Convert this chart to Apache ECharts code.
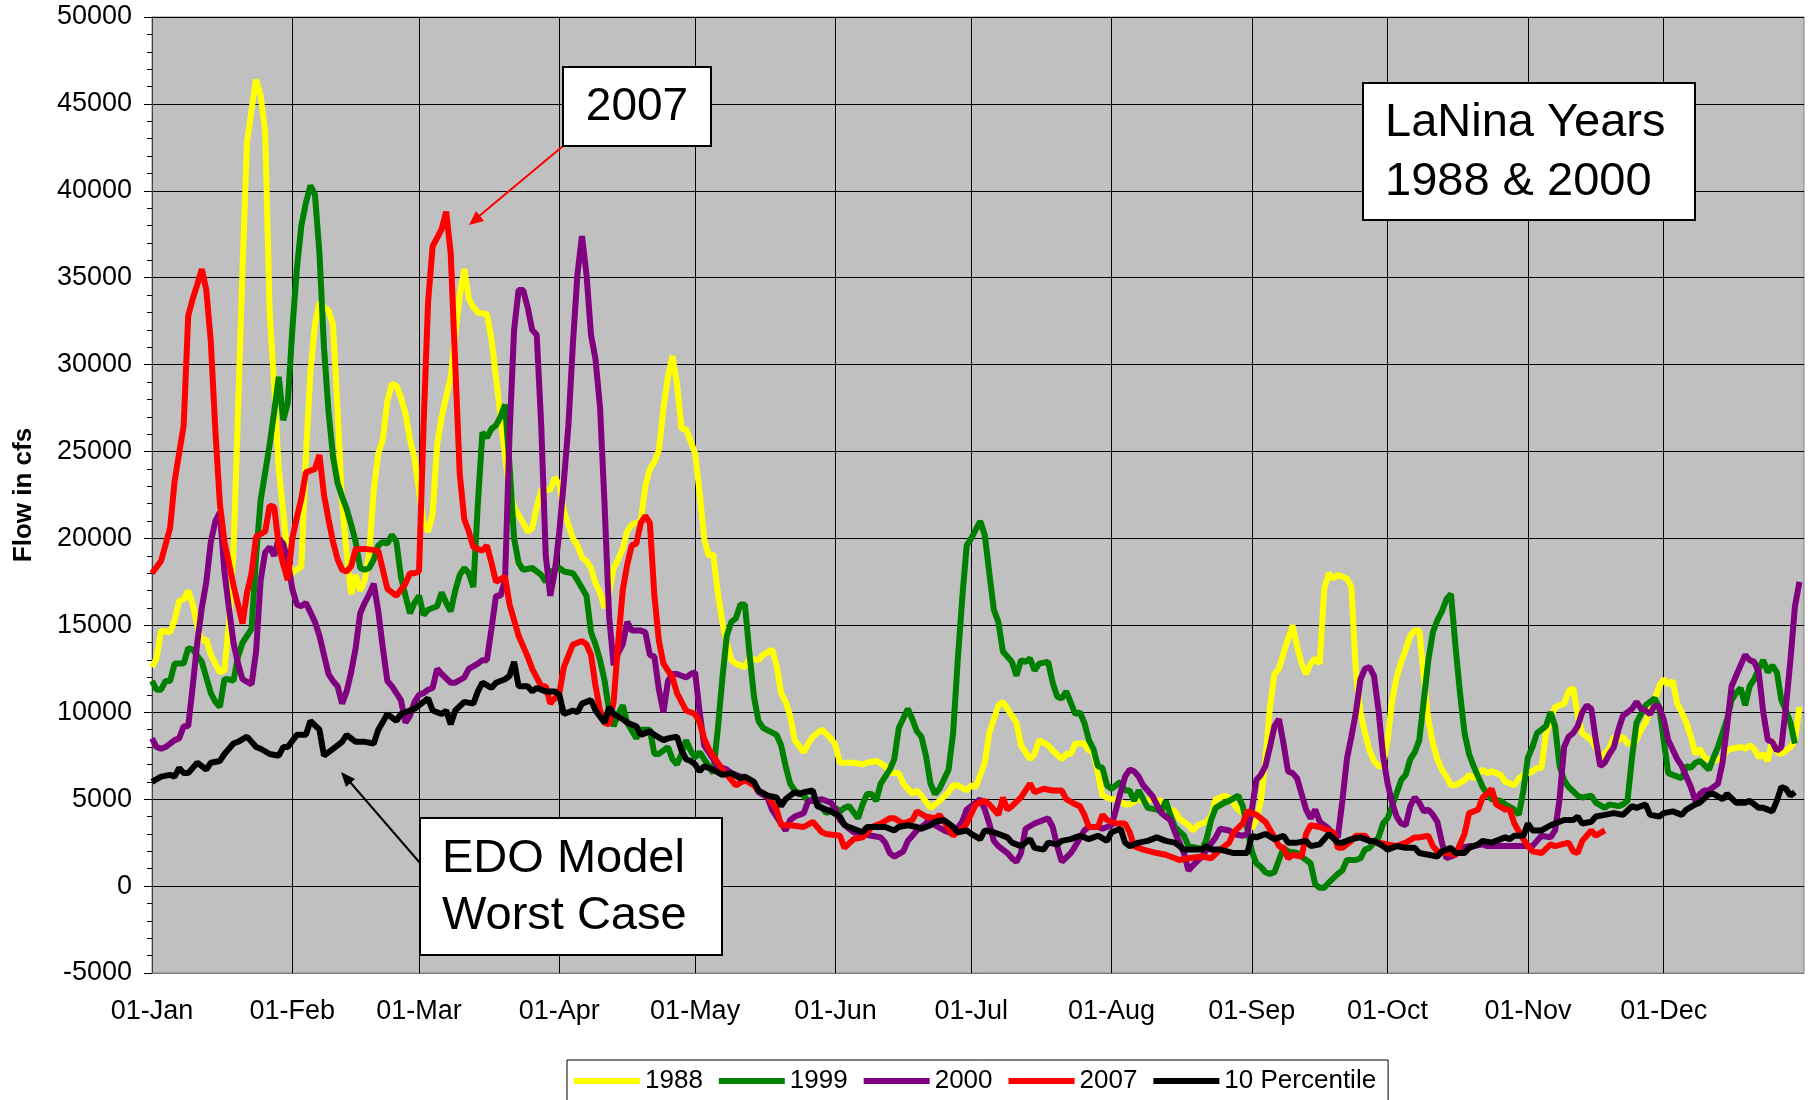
<!DOCTYPE html>
<html>
<head>
<meta charset="utf-8">
<title>Flow in cfs - LaNina Years</title>
<script src="https://cdn.jsdelivr.net/npm/echarts@6/dist/echarts.min.js"></script>
<style>
  html, body { margin: 0; padding: 0; background: #ffffff; }
  #chart { width: 1810px; height: 1100px; }
</style>
</head>
<body>
<div id="chart"></div>
<script>
var FONT = '"Liberation Sans", Arial, sans-serif';

// day-of-year categories, 01-Jan .. 31-Dec plus the closing 01-Jan
var monthNames = ['Jan', 'Feb', 'Mar', 'Apr', 'May', 'Jun', 'Jul', 'Aug', 'Sep', 'Oct', 'Nov', 'Dec'];
var monthLengths = [31, 28, 31, 30, 31, 30, 31, 31, 30, 31, 30, 31];
var days = [];
monthNames.forEach(function (m, i) {
  for (var d = 1; d <= monthLengths[i]; d++) days.push((d < 10 ? '0' : '') + d + '-' + m);
});
days.push('01-Jan');

var legendNames = ['1988', '1999', '2000', '2007', '10 Percentile'];
var seriesColors = ['#FFFF00', '#008000', '#800080', '#FF0000', '#000000'];

// [day index, flow in cfs]
var y1988 = [[0,12600],[1,13100],[2,14700],[4,14600],[5,15300],[6,16400],[7,16500],[8,17000],[9,16200],[10,15000],[11,14100],[12,14200],[13,13300],[15,12300],[16,12400],[17,15100],[18,19200],[19,27300],[20,35500],[21,42800],[22,44700],[23,46400],[24,45500],[25,43400],[26,33000],[27,28800],[28,24000],[29,21500],[30,18800],[31,18000],[33,18400],[34,24700],[35,29600],[36,32300],[37,33600],[38,33300],[39,33100],[40,32300],[41,27400],[42,22000],[43,19200],[44,16800],[45,17900],[46,17000],[47,17600],[48,19200],[49,22800],[50,24900],[51,25700],[52,27900],[53,28900],[54,28800],[55,28100],[56,27200],[57,25700],[58,24600],[59,22700],[60,20900],[61,20400],[62,21400],[63,25400],[64,27000],[66,29300],[67,31700],[68,34000],[69,35500],[70,33800],[71,33300],[72,33000],[74,32900],[75,31500],[76,29300],[77,27000],[78,24700],[79,22800],[80,21800],[82,20900],[83,20400],[84,20600],[85,21800],[86,22800],[88,22800],[89,23500],[90,23100],[91,21600],[93,20000],[94,19600],[95,18900],[96,18700],[97,18300],[98,17400],[99,16900],[100,16000],[101,16900],[102,18300],[103,18800],[104,19400],[105,20400],[106,20800],[108,21000],[109,23000],[110,24000],[111,24400],[112,25100],[113,27500],[114,29300],[115,30500],[116,28900],[117,26300],[118,26300],[119,25600],[120,24900],[121,22600],[122,20000],[123,19000],[124,19100],[125,16900],[126,15200],[127,14000],[128,13000],[129,12800],[131,12600],[132,13100],[134,13000],[135,13300],[137,13600],[138,12700],[139,11100],[140,10600],[141,9800],[142,8400],[144,7700],[145,8200],[146,8600],[148,9000],[150,8500],[151,8100],[152,7100],[154,7100],[155,7100],[157,7000],[158,7100],[160,7200],[162,6900],[163,6500],[165,6500],[166,5900],[168,5300],[169,5500],[170,5200],[172,4500],[173,4700],[174,4900],[176,5400],[177,5800],[178,5800],[180,5500],[181,5800],[182,5700],[184,7100],[185,8800],[187,10400],[188,10600],[190,9800],[191,9400],[192,8100],[194,7300],[195,7600],[196,8400],[198,8100],[199,7800],[201,7300],[202,7600],[203,7600],[204,8200],[206,8200],[207,7800],[208,7700],[209,6500],[210,5200],[212,5000],[213,5000],[215,4700],[216,4700],[218,5000],[219,4900],[221,5000],[223,4900],[224,4500],[226,4300],[227,3900],[229,3500],[230,3200],[231,3500],[233,3700],[234,4000],[235,5000],[237,5200],[238,5100],[240,4400],[241,4200],[242,4100],[243,3300],[244,3800],[245,4900],[246,7300],[247,10300],[248,12200],[249,12500],[250,13400],[251,14200],[252,15000],[253,13800],[254,12800],[255,12200],[256,12800],[257,13100],[258,12800],[259,17100],[260,18000],[261,17700],[262,17900],[264,17700],[265,17200],[266,12300],[267,10000],[268,8800],[269,7800],[270,7200],[271,6900],[272,6900],[273,8400],[274,10700],[275,12000],[276,12900],[277,13600],[278,14400],[279,14700],[280,14700],[281,12000],[282,9600],[283,8200],[284,7300],[285,6700],[286,6300],[287,5800],[288,5800],[290,6100],[291,6400],[292,6200],[294,6700],[295,6500],[296,6600],[298,6400],[299,6000],[301,5800],[302,6200],[303,6400],[305,6600],[306,6800],[307,6800],[308,8800],[309,9600],[310,10300],[312,10500],[313,11200],[314,11400],[315,9800],[316,8800],[318,8400],[319,8000],[320,7400],[322,7900],[323,8600],[324,8400],[325,8600],[326,8200],[327,8200],[328,8400],[329,9000],[330,9400],[331,10200],[332,10700],[333,11500],[334,11900],[335,11600],[336,11800],[337,10500],[338,10000],[339,9400],[340,8600],[341,7600],[342,7900],[343,7400],[344,7300],[345,7200],[347,7400],[348,7800],[349,7900],[351,8000],[352,7900],[353,8100],[354,7900],[355,7400],[356,7600],[357,7200],[358,8400],[359,7700],[360,7600],[362,8000],[363,8400],[364,10300]];

var y1999 = [[0,11800],[1,11300],[2,11300],[3,11800],[4,11800],[5,12800],[7,12800],[8,13700],[9,13600],[11,12900],[12,12000],[13,11100],[14,10600],[15,10300],[16,11900],[17,11900],[18,11800],[19,13200],[20,14000],[22,14800],[23,19000],[24,22200],[25,23800],[26,25400],[27,27300],[28,29300],[29,26800],[30,27800],[31,32000],[32,35500],[33,38000],[34,39300],[35,40300],[36,39800],[37,36400],[38,31000],[39,27300],[40,24700],[41,23200],[42,22400],[43,21700],[44,20800],[45,19800],[46,18300],[47,18200],[48,18300],[49,18800],[50,19600],[51,19800],[52,19700],[53,20200],[54,19800],[55,17800],[56,16700],[57,15700],[58,16300],[59,16700],[60,15600],[61,15900],[62,16000],[63,16100],[64,16900],[65,16300],[66,15800],[67,17000],[68,17900],[69,18300],[70,18000],[71,17200],[72,22000],[73,26100],[74,25800],[75,26300],[76,26500],[77,27000],[78,27700],[79,24200],[80,20000],[81,18600],[82,18200],[84,18300],[86,17900],[87,17500],[88,18100],[90,18300],[91,18100],[93,18000],[94,17600],[96,16700],[97,14600],[98,13900],[99,13000],[100,11800],[101,10100],[102,9200],[103,9900],[104,10400],[105,9400],[107,8500],[108,9000],[110,9000],[111,7600],[112,7600],[114,8000],[115,7300],[116,7000],[117,7600],[118,8400],[119,7800],[120,7400],[121,7700],[123,6900],[124,6500],[125,9000],[126,11900],[127,14400],[128,15200],[129,15400],[130,16200],[131,16200],[132,13400],[133,10900],[134,9500],[135,9100],[138,8700],[139,8100],[140,6900],[141,5900],[142,5500],[144,5200],[145,4900],[146,5000],[148,4500],[149,4200],[151,4500],[152,4300],[153,4500],[154,4600],[156,3900],[157,4700],[158,5300],[159,5300],[160,4900],[161,5900],[163,6700],[164,7300],[165,9100],[167,10200],[168,9600],[169,8900],[170,8600],[171,7500],[172,5900],[173,5300],[174,5600],[176,6700],[177,8800],[178,12900],[179,16500],[180,19600],[181,20000],[183,21000],[184,20200],[185,18000],[186,15900],[187,15200],[188,13500],[190,12900],[191,12100],[192,13000],[193,12900],[194,13100],[195,12400],[196,12800],[198,12900],[199,11700],[200,10900],[201,10800],[202,11200],[204,9900],[205,10000],[206,9400],[207,8400],[208,7900],[209,6900],[210,6800],[211,5800],[212,5600],[214,6000],[215,5500],[216,5500],[217,4900],[218,5500],[219,5000],[220,4500],[222,4400],[223,4300],[224,4900],[225,4100],[226,3400],[228,2900],[229,2300],[231,2200],[232,2100],[233,2700],[234,3800],[235,4500],[237,4800],[238,4900],[240,5200],[241,4600],[242,3300],[243,2000],[244,1300],[245,1100],[246,800],[247,700],[248,800],[249,1500],[250,2200],[251,2000],[253,1900],[254,1700],[256,1300],[257,100],[258,-100],[259,-100],[260,200],[262,700],[263,900],[264,1500],[266,1500],[267,1600],[268,2100],[269,2200],[271,2800],[272,3600],[273,3900],[274,4600],[276,6100],[277,6400],[278,7300],[279,7700],[280,8400],[281,10700],[282,13000],[283,14600],[284,15300],[285,15800],[286,16500],[287,16800],[288,13800],[289,11100],[290,8800],[291,7600],[292,6900],[293,6300],[294,5700],[295,5300],[296,5000],[298,4900],[299,4700],[301,4400],[302,4100],[303,5500],[304,7400],[305,8000],[306,8800],[307,9000],[308,9200],[309,10000],[310,9200],[311,6900],[312,6100],[313,5700],[315,5200],[316,5100],[318,5200],[319,4800],[321,4500],[322,4700],[324,4600],[325,4700],[326,4900],[327,7400],[328,9400],[329,9900],[330,10400],[331,10600],[332,10800],[333,10300],[334,8400],[335,6500],[337,6300],[338,6200],[339,6900],[340,6800],[341,7100],[342,7200],[344,6700],[345,7400],[346,8000],[347,8800],[348,9600],[349,10700],[350,11100],[351,11400],[352,10400],[353,11500],[354,11900],[355,12500],[356,13000],[357,12300],[358,12700],[359,12300],[360,10700],[361,10100],[362,9400],[363,8200]];

var y2000 = [[0,8500],[1,8000],[2,7900],[3,8000],[5,8400],[6,8500],[7,9200],[8,9200],[9,11500],[10,14000],[11,16000],[12,17500],[13,19800],[14,21000],[15,21500],[16,18100],[17,16000],[18,14000],[19,12800],[20,11900],[22,11600],[23,13500],[24,17600],[25,19200],[26,19500],[27,19000],[28,20000],[29,19700],[30,18700],[31,17100],[32,16200],[33,16100],[34,16300],[36,15200],[37,14400],[38,13300],[39,12200],[40,11800],[41,11500],[42,10500],[43,11200],[44,12300],[45,13700],[46,15700],[47,16300],[48,16800],[49,17400],[50,15800],[51,13700],[52,11800],[53,11500],[54,11100],[55,10700],[56,9400],[57,9800],[58,10600],[59,11000],[60,11100],[61,11300],[62,11400],[63,12500],[64,12200],[66,11700],[67,11700],[69,12000],[70,12500],[72,12800],[73,13000],[74,13000],[75,14800],[76,16700],[77,16700],[78,17600],[79,26000],[80,32000],[81,34300],[82,34300],[83,33300],[84,32000],[85,31700],[86,26500],[87,19000],[88,16700],[89,18100],[90,20400],[91,23300],[92,26500],[93,31200],[94,35200],[95,37400],[96,35200],[97,31700],[98,30300],[99,27500],[100,21900],[101,15500],[102,12700],[103,13400],[104,13900],[105,15200],[106,14700],[108,14700],[109,14600],[110,13300],[111,13200],[112,11300],[113,10000],[114,11800],[115,12200],[116,12200],[118,12000],[119,12200],[120,12300],[121,10000],[122,8100],[124,7300],[125,6900],[126,6800],[127,6700],[128,6500],[130,6300],[131,6200],[133,5900],[134,5400],[136,5100],[137,4400],[139,3600],[140,3200],[141,3800],[142,4000],[144,4200],[145,4900],[146,4900],[148,5000],[150,4800],[151,4400],[152,3800],[154,3300],[155,3100],[157,3000],[159,2900],[161,2800],[162,2500],[163,1900],[164,1700],[166,2000],[167,2600],[168,2900],[169,3200],[171,3600],[172,4000],[173,3500],[175,3200],[176,3100],[177,3000],[179,3700],[180,4400],[181,4600],[183,5000],[184,4400],[185,3600],[186,2600],[187,2300],[189,1900],[190,1600],[191,1400],[192,1900],[193,3300],[195,3600],[196,3700],[198,3900],[199,3400],[200,2300],[201,1400],[203,1900],[204,2300],[206,3200],[207,3400],[209,3400],[210,3300],[212,3500],[213,4400],[214,5400],[215,6300],[216,6700],[217,6600],[218,6300],[219,5800],[221,5200],[222,4700],[223,4200],[225,3800],[226,3100],[228,1900],[229,900],[230,1200],[232,1700],[233,2100],[235,2800],[236,3300],[238,3200],[239,3000],[241,2900],[242,3000],[243,4400],[244,6100],[245,6400],[246,6900],[247,8000],[248,9200],[249,9600],[250,8200],[251,6600],[252,6500],[253,6200],[254,5300],[255,4400],[256,3900],[257,4400],[258,3700],[260,3300],[261,2900],[262,2800],[263,4900],[264,7300],[265,8600],[266,10000],[267,11900],[268,12500],[269,12600],[270,12100],[271,10100],[272,7500],[273,5900],[274,4800],[275,4000],[276,3600],[277,3500],[278,4600],[279,5100],[280,4800],[281,4300],[282,4400],[283,4100],[284,3700],[285,2500],[286,1600],[288,1800],[289,2200],[291,2300],[292,2300],[294,2400],[295,2300],[297,2300],[299,2300],[301,2300],[303,2300],[305,2300],[306,2600],[307,2900],[309,2800],[310,3200],[311,5000],[312,8000],[313,8600],[314,8800],[315,9200],[316,10000],[317,10400],[318,10200],[319,8400],[320,6900],[321,7100],[322,7600],[323,8000],[324,9000],[325,9800],[326,10000],[327,10200],[328,10600],[329,10200],[330,10100],[331,9900],[332,10400],[333,10300],[334,9600],[335,8400],[337,7300],[338,6900],[339,6300],[340,5700],[341,4900],[342,5300],[343,5500],[344,5500],[346,5900],[347,7100],[348,9200],[349,11500],[350,12100],[352,13300],[353,13000],[354,12900],[355,12300],[356,10000],[357,8400],[358,8300],[359,7800],[360,8000],[361,10300],[362,13000],[363,16100],[364,17500]];

var y2007 = [[0,18000],[2,18700],[4,20600],[5,23300],[7,26500],[8,32800],[9,33800],[10,34600],[11,35500],[12,34300],[13,31300],[14,26200],[15,22000],[16,19800],[17,18600],[18,17300],[19,16200],[20,15100],[21,16900],[22,18000],[23,20100],[25,20400],[26,21900],[27,21800],[28,19600],[29,18500],[30,17600],[31,20000],[32,21200],[33,22300],[34,23800],[36,24000],[37,24800],[38,22500],[39,21100],[40,19800],[41,18800],[42,18200],[43,18100],[44,18400],[45,19400],[47,19400],[50,19300],[52,17100],[54,16700],[56,17400],[57,18000],[58,18000],[59,18100],[60,26500],[61,33600],[62,36800],[63,37300],[64,37800],[65,38800],[66,36400],[67,30000],[68,23700],[69,21100],[70,20400],[71,19500],[73,19300],[74,19600],[75,18600],[76,17500],[78,17800],[79,16200],[81,14400],[83,13200],[84,12500],[86,11500],[87,11500],[88,10500],[90,11100],[91,12600],[93,13900],[95,14100],[96,13900],[97,13300],[98,11500],[99,10100],[100,9400],[101,9300],[102,10600],[103,14000],[104,17000],[105,18500],[106,19600],[107,19700],[108,20900],[109,21300],[110,20900],[111,16700],[112,14100],[113,12800],[115,12000],[116,11100],[118,10100],[119,10000],[120,9900],[121,9400],[122,8500],[123,7900],[124,7500],[126,6700],[128,6100],[129,5800],[131,6100],[133,5800],[134,5500],[136,5200],[138,4400],[139,3500],[141,3500],[144,3400],[146,3700],[148,3100],[149,3000],[152,2900],[153,2200],[155,2700],[157,2800],[159,3400],[161,3600],[163,3900],[164,3900],[166,3600],[168,3800],[169,4300],[171,4000],[173,3900],[174,4100],[176,3300],[177,2900],[179,3300],[180,3600],[182,4700],[184,4900],[185,4700],[187,4100],[188,5100],[189,4400],[190,4600],[192,5100],[194,5900],[195,5400],[197,5600],[199,5500],[201,5500],[202,5000],[204,4700],[205,4600],[206,4100],[207,3400],[209,3400],[210,4100],[211,3800],[213,3600],[215,3600],[216,3100],[217,2300],[219,2100],[222,1900],[224,1800],[227,1500],[229,1600],[232,1700],[234,1600],[236,2100],[238,2500],[239,3100],[241,3600],[242,4300],[243,4200],[244,4100],[245,3900],[246,3700],[248,2800],[249,2300],[250,2200],[251,1600],[252,1800],[254,1700],[255,3000],[256,3500],[258,3400],[260,3200],[261,3100],[262,2200],[263,2200],[265,2600],[266,2900],[268,2900],[269,2600],[271,2500],[273,2400],[275,2300],[277,2500],[279,2800],[280,2800],[282,2900],[283,2300],[284,2000],[286,1900],[288,1800],[290,3000],[291,4200],[293,4400],[294,5100],[295,5300],[296,5600],[297,4700],[299,4400],[300,4400],[301,3600],[303,2700],[304,2300],[305,2000],[307,1900],[309,2400],[310,2300],[313,2500],[314,2000],[315,1900],[316,2600],[318,3200],[319,2900],[321,3200]];

var p10 = [[0,6000],[2,6300],[4,6400],[5,6300],[6,6800],[7,6500],[8,6500],[10,7100],[12,6700],[13,7100],[15,7200],[16,7600],[18,8200],[19,8300],[21,8600],[23,8000],[24,7900],[26,7600],[28,7500],[29,8000],[30,8000],[32,8700],[34,8700],[35,9500],[37,9000],[38,7500],[40,7900],[42,8300],[43,8700],[45,8300],[47,8300],[49,8200],[50,9000],[52,9900],[54,9500],[55,9900],[58,10200],[59,10400],[61,10800],[62,10100],[64,9900],[65,10100],[66,9300],[67,10100],[69,10600],[71,10500],[72,11200],[73,11700],[75,11400],[76,11700],[78,11900],[79,12100],[80,12900],[81,11500],[83,11500],[84,11200],[85,11400],[87,11200],[89,11200],[90,11000],[91,9900],[93,10100],[94,10000],[95,10500],[97,10700],[98,10100],[100,9400],[101,10300],[102,9900],[104,9600],[105,9400],[107,9200],[108,8700],[110,8900],[111,8700],[113,8400],[114,8500],[116,8600],[117,7800],[118,7300],[119,7200],[120,7000],[121,6600],[122,6900],[124,6700],[126,6400],[128,6500],[130,6200],[131,6300],[133,6000],[134,5500],[136,5200],[138,5100],[139,4600],[140,5000],[142,5400],[143,5300],[144,5400],[146,5500],[147,4600],[148,4500],[150,4300],[152,4000],[153,3500],[155,3300],[157,3100],[158,3400],[160,3400],[162,3400],[164,3200],[165,3400],[167,3500],[169,3400],[170,3300],[172,3500],[173,3700],[175,3800],[177,3400],[178,3100],[180,3200],[181,3000],[183,2700],[184,3200],[186,3100],[189,2800],[190,2500],[192,2300],[194,2700],[195,2200],[197,2100],[198,2500],[200,2400],[201,2600],[203,2700],[205,2900],[207,2700],[209,2900],[211,2600],[212,3100],[214,3300],[215,2500],[216,2300],[218,2500],[220,2600],[222,2800],[224,2600],[226,2500],[228,2100],[230,2100],[232,2100],[233,2300],[234,2100],[236,2100],[239,1900],[240,1900],[242,1900],[243,2900],[244,2800],[246,3000],[248,2700],[250,2900],[251,2500],[253,2500],[255,2600],[256,2300],[258,2400],[260,3000],[262,2500],[263,2500],[265,2700],[267,2800],[269,2600],[270,2600],[272,2300],[273,2100],[275,2300],[277,2200],[279,2200],[280,1900],[282,1800],[284,1700],[285,2000],[287,2200],[288,1900],[290,1900],[291,2200],[293,2400],[294,2600],[296,2500],[297,2600],[299,2800],[300,2700],[301,2900],[303,2900],[304,3600],[305,3200],[307,3200],[309,3500],[310,3600],[312,3800],[314,3800],[315,4000],[316,3600],[318,3700],[319,4000],[321,4100],[323,4200],[325,4100],[327,4600],[328,4500],[330,4700],[331,4100],[333,4000],[334,4200],[336,4300],[338,4100],[339,4400],[341,4700],[342,4800],[344,5300],[345,5300],[347,5000],[348,5300],[350,4800],[352,4800],[353,4900],[355,4500],[356,4500],[358,4300],[359,4900],[360,5700],[361,5600],[362,5200],[363,5400]];

var seriesData = [y1988, y1999, y2000, y2007, p10];

function isMonthStart(index, value) {
  return index < days.length - 1 && value.slice(0, 3) === '01-';
}

var chart = echarts.init(document.getElementById('chart'), null, { renderer: 'canvas' });

var option = {
  animation: false,
  backgroundColor: '#ffffff',
  grid: {
    left: 152,
    right: 6,
    top: 17,
    bottom: 127,
    show: true,
    backgroundColor: '#C0C0C0',
    borderColor: '#808080',
    borderWidth: 1
  },
  legend: {
    data: legendNames,
    left: 567,
    top: 1060,
    icon: 'rect',
    itemWidth: 66,
    itemHeight: 6,
    itemGap: 16,
    padding: [8, 12, 8, 7],
    borderColor: '#000000',
    borderWidth: 1,
    backgroundColor: '#ffffff',
    textStyle: { fontSize: 26, color: '#000000', fontFamily: FONT }
  },
  xAxis: {
    type: 'category',
    data: days,
    boundaryGap: false,
    axisLine: { show: true, onZero: false, lineStyle: { color: '#808080', width: 1 } },
    axisTick: { show: false },
    axisLabel: {
      interval: isMonthStart,
      fontSize: 27,
      color: '#000000',
      fontFamily: FONT,
      margin: 25
    },
    splitLine: {
      show: true,
      interval: function (index, value) { return index > 0 && isMonthStart(index, value); },
      lineStyle: { color: '#000000', width: 1 }
    }
  },
  yAxis: {
    type: 'value',
    min: -5000,
    max: 50000,
    interval: 5000,
    name: 'Flow in cfs',
    nameLocation: 'middle',
    nameGap: 115,
    nameTextStyle: { fontSize: 26, fontWeight: 'bold', color: '#000000', fontFamily: FONT },
    axisLine: { show: true, lineStyle: { color: '#404040', width: 1 } },
    axisTick: { show: true, length: 8, lineStyle: { color: '#000000' } },
    minorTick: { show: true, splitNumber: 5, length: 5, lineStyle: { color: '#000000' } },
    axisLabel: {
      fontSize: 27,
      color: '#000000',
      fontFamily: FONT,
      margin: 20,
      formatter: function (v) { return String(v); }
    },
    splitLine: { show: true, lineStyle: { color: '#000000', width: 1 } }
  },
  series: legendNames.map(function (name, i) {
    return {
      name: name,
      type: 'line',
      data: seriesData[i],
      color: seriesColors[i],
      symbol: 'none',
      showSymbol: false,
      lineStyle: { width: 6, color: seriesColors[i] },
      z: 2 + i
    };
  }),
  graphic: [
    // red arrow to the 2007 peak
    { type: 'line', z: 100, shape: { x1: 563, y1: 146, x2: 478, y2: 217 }, style: { stroke: '#FF0000', lineWidth: 2 } },
    { type: 'polygon', z: 100, shape: { points: [[469, 225], [484, 221], [476, 211]] }, style: { fill: '#FF0000' } },
    { type: 'rect', z: 100, shape: { x: 563, y: 67, width: 148, height: 79 }, style: { fill: '#ffffff', stroke: '#000000', lineWidth: 2 } },
    { type: 'text', z: 101, x: 637, y: 107, style: { text: '2007', font: '46px ' + FONT, fill: '#000000', textAlign: 'center', textVerticalAlign: 'middle' } },

    // LaNina note
    { type: 'rect', z: 100, shape: { x: 1363, y: 83, width: 332, height: 137 }, style: { fill: '#ffffff', stroke: '#000000', lineWidth: 2 } },
    { type: 'text', z: 101, x: 1385, y: 123, style: { text: 'LaNina Years', font: '47px ' + FONT, fill: '#000000', textAlign: 'left', textVerticalAlign: 'middle' } },
    { type: 'text', z: 101, x: 1385, y: 182, style: { text: '1988 & 2000', font: '47px ' + FONT, fill: '#000000', textAlign: 'left', textVerticalAlign: 'middle' } },

    // black arrow to the 10 percentile line
    { type: 'line', z: 100, shape: { x1: 420, y1: 863, x2: 350, y2: 782 }, style: { stroke: '#000000', lineWidth: 2 } },
    { type: 'polygon', z: 100, shape: { points: [[341, 772], [346, 787], [355, 779]] }, style: { fill: '#000000' } },
    { type: 'rect', z: 100, shape: { x: 420, y: 818, width: 302, height: 137 }, style: { fill: '#ffffff', stroke: '#000000', lineWidth: 2 } },
    { type: 'text', z: 101, x: 442, y: 859, style: { text: 'EDO Model', font: '47px ' + FONT, fill: '#000000', textAlign: 'left', textVerticalAlign: 'middle' } },
    { type: 'text', z: 101, x: 442, y: 916, style: { text: 'Worst Case', font: '47px ' + FONT, fill: '#000000', textAlign: 'left', textVerticalAlign: 'middle' } }
  ]
};

chart.setOption(option);
</script>
</body>
</html>
